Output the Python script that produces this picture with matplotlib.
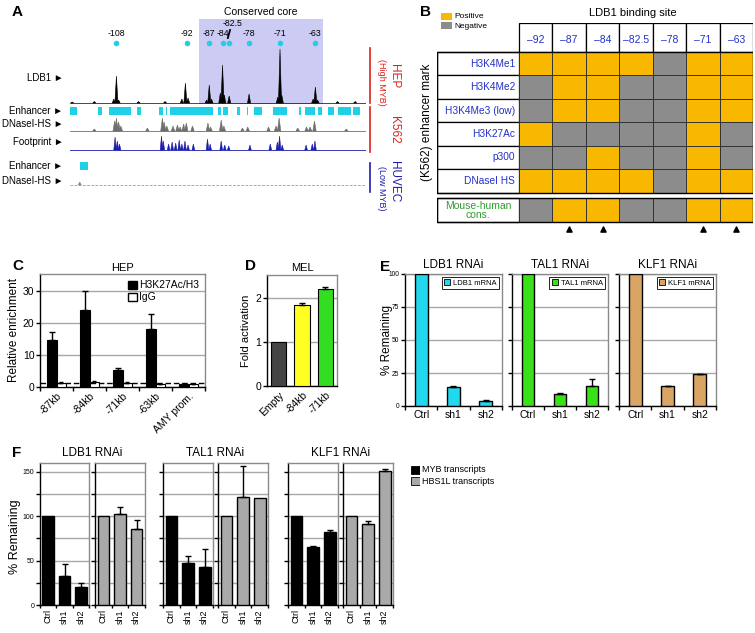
import matplotlib
matplotlib.use('Agg')
import matplotlib.pyplot as plt
from matplotlib.patches import Rectangle, Patch

plt.rcParams['font.family'] = ['Liberation Sans', 'DejaVu Sans']

W, H = 755, 633

# ---------------- panel A data (genomic position in kb) ----------------
site_kb = [-108, -92, -87, -84, -82.5, -78, -71, -63]
site_labels = ['-108', '-92', '-87', '-84', '-82.5', '-78', '-71', '-63']
core_kb = [-89.3, -61.3]

ldb1_kb = [-118, -113, -108.6, -108, -107.5, -103, -97, -93.2, -92.4, -91.8, -87.6, -87, -86.5,
           -84.5, -84, -83.6, -82.5, -78, -71.5, -71, -70.6, -63.5, -63, -62.5, -58, -54]
ldb1_ht = [1, 1.5, 4, 27, 3, 1.5, 1.5, 4, 20, 5, 3, 18, 4,
           10, 38, 8, 7, 9, 6, 54, 8, 4, 16, 3, 1.5, 1.5]

dnase_kb = [-113, -108.4, -108, -107.5, -107, -101, -97.6, -97.2, -96.6, -95.2, -94.2, -93.6,
            -92.8, -92.2, -90.8, -87.3, -86.7, -84.3, -83.7, -79.5, -78.3, -73.6, -71.9, -71.2,
            -67, -65, -64.2, -63.2, -56]
dnase_ht = [2, 10, 13, 9, 5, 3, 13, 9, 5, 5, 6, 4,
            7, 8, 5, 8, 4, 11, 5, 3, 4, 4, 5, 13,
            3, 4, 4, 10, 2]

foot_kb = [-108.3, -107.8, -107.3, -97.8, -97.4, -96.2, -95.4, -94.6, -93.8, -93.2, -92.5, -91.8,
           -90.6, -87.4, -86.8, -84.3, -83.5, -82.6, -77.8, -73.2, -71.6, -71.1, -70.5, -65.1,
           -63.7, -63.1]
foot_ht = [13, 9, 6, 14, 9, 6, 8, 7, 10, 6, 9, 5,
           6, 11, 6, 9, 5, 4, 5, 6, 8, 14, 5, 5,
           6, 9]

k562_enh = [(-118.5, -116.9), (-112.2, -111.3), (-109.7, -104.7), (-103.4, -102.5), (-98.4, -97.5),
            (-96.8, -96.6), (-95.9, -86.2), (-85.0, -84.4), (-83.9, -82.8), (-80.7, -80.1),
            (-78.5, -78.3), (-76.9, -75.1), (-72.6, -69.4), (-66.7, -66.3), (-65.4, -63.1),
            (-62.4, -61.5), (-60.2, -58.8), (-57.9, -55.0), (-54.5, -52.9)]
huvec_enh = [(-116.3, -114.5)]
huvec_dnase_kb = [-116.3]
huvec_dnase_ht = [3]

# ---------------- panel B data ----------------
b_sites = ['\u201392', '\u201387', '\u201384', '\u201382.5', '\u201378', '\u201371', '\u201363']
b_marks = ['H3K4Me1', 'H3K4Me2', 'H3K4Me3 (low)', 'H3K27Ac', 'p300', 'DNaseI HS']
b_values = [[1, 1, 1, 1, 0, 1, 1],
            [0, 1, 1, 0, 0, 1, 1],
            [0, 1, 1, 0, 0, 1, 1],
            [1, 0, 0, 0, 0, 1, 0],
            [0, 0, 1, 0, 0, 1, 0],
            [1, 1, 1, 1, 0, 1, 1]]
b_cons = [0, 1, 1, 0, 0, 1, 1]
b_tested = [1, 2, 5, 6]

# ---------------- panel C data ----------------
c_labels = ['-87kb', '-84kb', '-71kb', '-63kb', 'AMY prom.']
c_h3k27 = [14.8, 24.0, 5.4, 18.0, 0.9]
c_h3k27_err = [2.5, 6.0, 0.4, 4.7, 0.1]
c_igg = [1.3, 1.6, 1.3, 0.9, 0.9]
c_igg_err = [0.2, 0.2, 0.2, 0.1, 0.1]

# ---------------- panel D data ----------------
d_labels = ['Empty', '-84kb', '-71kb']
d_vals = [1.0, 1.83, 2.2]
d_err = [0, 0.06, 0.04]

# ---------------- panel E data ----------------
kd_labels = ['Ctrl', 'sh1', 'sh2']
e_titles = ['LDB1 RNAi', 'TAL1 RNAi', 'KLF1 RNAi']
e_legend = ['LDB1 mRNA', 'TAL1 mRNA', 'KLF1 mRNA']
e_vals = [[100, 14.5, 4.0], [100, 9.0, 14.8], [100, 14.8, 24.2]]
e_err = [[0, 0.6, 0.3], [0, 0.6, 5.5], [0, 0.3, 0.4]]

# ---------------- panel F data ----------------
f_myb = [[100, 33, 20], [100, 47, 43], [100, 65, 82]]
f_myb_err = [[0, 13, 5], [0, 8, 20], [0, 2, 2]]
f_hbs = [[100, 102, 86], [100, 122, 121], [100, 91, 151]]
f_hbs_err = [[0, 8.5, 9.5], [0, 35, 0], [0, 4, 2]]

fig = plt.figure(figsize=(W / 100, H / 100), dpi=100)


def px_axes(l, t, r, b):
    return fig.add_axes([l / W, 1 - b / H, (r - l) / W, (b - t) / H])


def px_text(x, y, s, **kw):
    return fig.text(x / W, 1 - y / H, s, **kw)


def box_style(ax):
    for side in ['top', 'right']:
        ax.spines[side].set_color('#8a8a8a')
        ax.spines[side].set_linewidth(1.0)
    for side in ['left', 'bottom']:
        ax.spines[side].set_color('black')
        ax.spines[side].set_linewidth(1.0)
    ax.set_axisbelow(True)
    ax.yaxis.grid(True, color='#a8a8a8', lw=1.0)


def add_errors(ax, x, vals, errs, capsize=2.5):
    for xi, v, e in zip(x, vals, errs):
        if e > 0:
            ax.errorbar([xi], [v], yerr=[[0], [e]], fmt='none', ecolor='black',
                        elinewidth=1.0, capsize=capsize, capthick=1.0, zorder=4)


def cat_ticks(ax, labels, n, **kw):
    ax.set_xticks(range(n))
    ax.set_xticklabels(labels, **kw)
    ax.set_xticks([i - 0.5 for i in range(n + 1)], minor=True)
    ax.tick_params(axis='x', which='major', length=0, pad=3)
    ax.tick_params(axis='x', which='minor', length=3, width=1, direction='out')


# ================= Panel A =================
XL = (-118.5, -51.55)
axA = px_axes(70, 10, 366, 195)
axA.set_xlim(*XL)
axA.set_ylim(195, 10)
axA.axis('off')
axA.fill_between(core_kb, 19, 104, color='#cbcbf3', lw=0, zorder=0)
axA.text(sum(core_kb) / 2, 12, 'Conserved core', ha='center', va='center', fontsize=7.5)
axA.scatter(site_kb, [43] * len(site_kb), s=16, color='#1fd0e8', zorder=3, lw=0)
for kb, lab in zip(site_kb, site_labels):
    if lab == '-82.5':
        axA.text(kb + 0.8, 24, lab, ha='center', va='center', fontsize=6.3)
        axA.plot([-82.8, -82.3], [38, 30], color='black', lw=1.3)
    else:
        axA.text(kb, 34, lab, ha='center', va='center', fontsize=6.3)


def draw_track(pos, hts, base, color, hw, ls='-', lw=0.5):
    axA.plot(XL, [base, base], color=color, lw=lw, ls=ls)
    for p, h in zip(pos, hts):
        axA.fill([p - hw, p, p + hw], [base, base - h, base], facecolor=color,
                 edgecolor=color, lw=0.4)


draw_track(ldb1_kb, ldb1_ht, 103, 'black', 0.35)
axA.broken_barh([(a, b - a) for a, b in k562_enh], (107, 8), facecolors='#1fd0e8')
draw_track(dnase_kb, dnase_ht, 131, '#6e6e6e', 0.38, lw=0.6)
draw_track(foot_kb, foot_ht, 150, '#1c1cb0', 0.3, lw=0.6)
axA.broken_barh([(a, b - a) for a, b in huvec_enh], (162, 8), facecolors='#1fd0e8')
draw_track(huvec_dnase_kb, huvec_dnase_ht, 185, '#8a8a8a', 0.35, ls=(0, (4, 2)), lw=0.5)

track_names = [('LDB1 \u25ba', 78), ('Enhancer \u25ba', 111), ('DNaseI-HS \u25ba', 124),
               ('Footprint \u25ba', 142), ('Enhancer \u25ba', 166), ('DNaseI-HS \u25ba', 181)]
for name, y in track_names:
    axA.text(-120.0, y, name, ha='right', va='center', fontsize=7, clip_on=False)

red, navy = '#e0201c', '#1c1cb0'
axA.plot([-50.65, -50.65], [48, 103], color=red, lw=1.2, clip_on=False)
axA.plot([-50.65, -50.65], [107, 152], color=red, lw=1.2, clip_on=False)
axA.plot([-50.65, -50.65], [163, 192], color=navy, lw=1.2, clip_on=False)
axA.text(-45.3, 76, 'HEP', rotation=270, ha='center', va='center', color=red, fontsize=8.5, clip_on=False)
axA.text(-48.0, 82, '(High MYB)', rotation=270, ha='center', va='center', color=red, fontsize=6.5, clip_on=False)
axA.text(-45.3, 130, 'K562', rotation=270, ha='center', va='center', color=red, fontsize=8.5, clip_on=False)
axA.text(-45.3, 182, 'HUVEC', rotation=270, ha='center', va='center', color=navy, fontsize=8.5, clip_on=False)
axA.text(-48.0, 188, '(Low MYB)', rotation=270, ha='center', va='center', color=navy, fontsize=6.5, clip_on=False)
px_text(12, 12, 'A', fontsize=11, fontweight='bold', ha='left', va='center')

# ================= Panel B =================
orange, grey = '#f8b800', '#8c8c8c'
axB = px_axes(437, 23, 753, 232)
axB.set_xlim(-2.45, 7)
axB.set_ylim(7.68, -1.24)
axB.axis('off')
row_y = [0, 1, 2, 3, 4, 5]
cons_y = 6.25
for j, s in enumerate(b_sites):
    axB.add_patch(Rectangle((j, -1.24), 1, 1.24, fc='white', ec='black', lw=0.9))
    axB.text(j + 0.5, -0.5, s, ha='center', va='center', fontsize=7.5, color='#2230c8')
for i, name in enumerate(b_marks):
    axB.add_patch(Rectangle((-2.45, row_y[i]), 2.45, 1, fc='white', ec='black', lw=0.9))
    axB.text(-0.12, row_y[i] + 0.5, name, ha='right', va='center', fontsize=7.3, color='#2230c8')
    for j, v in enumerate(b_values[i]):
        axB.add_patch(Rectangle((j, row_y[i]), 1, 1, fc=orange if v else grey, ec='#333333', lw=0.7))
axB.add_patch(Rectangle((-2.45, 0), 9.45, 6, fc='none', ec='black', lw=1.0))
axB.add_patch(Rectangle((-2.45, cons_y), 2.45, 1, fc='white', ec='black', lw=0.9))
axB.text(-1.22, cons_y + 0.5, 'Mouse-human\ncons.', ha='center', va='center', fontsize=7.5,
         color='#2f9e2f', linespacing=0.85)
for j, v in enumerate(b_cons):
    axB.add_patch(Rectangle((j, cons_y), 1, 1, fc=orange if v else grey, ec='#333333', lw=0.7))
axB.add_patch(Rectangle((-2.45, cons_y), 9.45, 1, fc='none', ec='black', lw=1.0))
axB.scatter([j + 0.5 for j in b_tested], [7.55] * len(b_tested), marker='^', s=14,
            color='black', clip_on=False)
px_text(633, 13, 'LDB1 binding site', fontsize=8, ha='center', va='center')
px_text(427, 122, '(K562) enhancer mark', fontsize=8.5, rotation=90, ha='center', va='center')
px_text(420, 12, 'B', fontsize=11, fontweight='bold', ha='left', va='center')
legB = px_axes(441, 12, 452, 30)
legB.set_xlim(0, 1)
legB.set_ylim(30, 12)
legB.axis('off')
legB.add_patch(Rectangle((0, 13), 1, 7, fc=orange, ec='none'))
legB.add_patch(Rectangle((0, 21.5), 1, 7, fc=grey, ec='none'))
px_text(454, 17, 'Positive', fontsize=6, ha='left', va='center')
px_text(454, 26, 'Negative', fontsize=6, ha='left', va='center')

# ================= Panel C =================
axC = px_axes(40, 274, 205, 387)
box_style(axC)
xc = list(range(len(c_labels)))
axC.bar([x - 0.15 for x in xc], c_h3k27, width=0.3, color='black', edgecolor='black', lw=0.8, zorder=3)
axC.bar([x + 0.15 for x in xc], c_igg, width=0.3, color='white', edgecolor='black', lw=0.8, zorder=3)
add_errors(axC, [x - 0.15 for x in xc], c_h3k27, c_h3k27_err, capsize=2.5)
add_errors(axC, [x + 0.15 for x in xc], c_igg, c_igg_err, capsize=1.5)
axC.axhline(1.2, color='black', ls=(0, (4, 2)), lw=1.0, zorder=5)
axC.set_xlim(-0.5, 4.5)
axC.set_ylim(0, 35.3)
axC.set_yticks([0, 10, 20, 30])
axC.tick_params(axis='y', labelsize=7.5, length=3, width=1, pad=1)
cat_ticks(axC, c_labels, len(c_labels), rotation=45, ha='right', rotation_mode='anchor', fontsize=7.5)
axC.set_ylabel('Relative enrichment', fontsize=8.5, labelpad=2)
axC.legend(handles=[Patch(fc='black', ec='black', label='H3K27Ac/H3'),
                    Patch(fc='white', ec='black', label='IgG')],
           loc='upper right', frameon=False, fontsize=7.5, handlelength=0.8, handleheight=0.8,
           handletextpad=0.2, borderaxespad=0.2, labelspacing=0.2)
axC.set_title('HEP', fontsize=8, pad=2)
px_text(12, 266, 'C', fontsize=11, fontweight='bold', ha='left', va='center')

# ================= Panel D =================
axD = px_axes(267, 275, 337, 386)
box_style(axD)
axD.bar(range(3), d_vals, width=0.65, color=['#444444', '#ffff22', '#33dd22'],
        edgecolor='black', lw=0.8, zorder=3)
add_errors(axD, range(3), d_vals, d_err, capsize=2.5)
axD.set_xlim(-0.5, 2.5)
axD.set_ylim(0, 2.52)
axD.set_yticks([0, 1, 2])
axD.tick_params(axis='y', labelsize=7.5, length=3, width=1, pad=1)
cat_ticks(axD, d_labels, 3, rotation=45, ha='right', rotation_mode='anchor', fontsize=7.5)
axD.tick_params(axis='x', which='minor', length=0)
axD.set_ylabel('Fold activation', fontsize=8, labelpad=3)
axD.set_title('MEL', fontsize=8, pad=3)
px_text(245, 266, 'D', fontsize=11, fontweight='bold', ha='left', va='center')

# ================= Panel E =================
e_colors = ['#22d8ee', '#3ae01a', '#d9a565']
e_pos = [(405, 502), (512, 608), (619, 716)]
for k, (l, r) in enumerate(e_pos):
    ax = px_axes(l, 274, r, 406)
    box_style(ax)
    ax.bar(range(3), e_vals[k], width=0.4, color=e_colors[k], edgecolor='black', lw=1.0, zorder=3)
    add_errors(ax, range(3), e_vals[k], e_err[k], capsize=2.5)
    ax.set_xlim(-0.5, 2.5)
    ax.set_ylim(0, 100)
    ax.set_yticks([0, 25, 50, 75, 100])
    ax.tick_params(axis='y', labelsize=4.8, length=3, width=1, pad=1)
    if k > 0:
        ax.set_yticklabels([])
    cat_ticks(ax, kd_labels, 3, fontsize=7.5)
    leg = ax.legend(handles=[Patch(fc=e_colors[k], ec='black', lw=0.6, label=e_legend[k])],
                    loc='upper right', fontsize=5.5, fancybox=False, edgecolor='black',
                    framealpha=1, handlelength=0.8, handleheight=0.8, handletextpad=0.4,
                    borderpad=0.3, borderaxespad=0.35)
    leg.get_frame().set_linewidth(0.6)
    px_text((l + r) / 2, 265, e_titles[k], fontsize=8.5, ha='center', va='center')
px_text(387, 340, '% Remaining', fontsize=8.5, rotation=90, ha='center', va='center')
px_text(380, 267, 'E', fontsize=11, fontweight='bold', ha='left', va='center')

# ================= Panel F =================
f_pos = [(40, 89), (95, 145), (163, 213), (218, 268), (288, 338), (343, 393)]
for k in range(3):
    for m, (vals, errs, col) in enumerate([(f_myb[k], f_myb_err[k], 'black'),
                                           (f_hbs[k], f_hbs_err[k], '#a9a9a9')]):
        l, r = f_pos[2 * k + m]
        ax = px_axes(l, 463, r, 605)
        box_style(ax)
        ax.bar(range(3), vals, width=0.7, color=col, edgecolor='black', lw=1.0, zorder=3)
        add_errors(ax, range(3), vals, errs, capsize=2.5)
        ax.set_xlim(-0.5, 2.5)
        ax.set_ylim(0, 160)
        ax.set_yticks([0, 25, 50, 75, 100, 125, 150])
        if k == 0 and m == 0:
            ax.set_yticklabels(['0', '', '50', '', '100', '', '150'])
        else:
            ax.set_yticklabels([])
        ax.tick_params(axis='y', labelsize=5, length=3, width=1, pad=1)
        cat_ticks(ax, kd_labels, 3, rotation=90, fontsize=6.5)
        ax.tick_params(axis='x', which='minor', length=2)
    l0, r0 = f_pos[2 * k][0], f_pos[2 * k + 1][1]
    px_text((l0 + r0) / 2, 453, e_titles[k], fontsize=8.5, ha='center', va='center')
px_text(15, 537, '% Remaining', fontsize=9, rotation=90, ha='center', va='center')
px_text(12, 453, 'F', fontsize=11, fontweight='bold', ha='left', va='center')

legF = px_axes(411, 465, 420, 487)
legF.set_xlim(0, 1)
legF.set_ylim(487, 465)
legF.axis('off')
legF.add_patch(Rectangle((0, 466), 1, 8, fc='black', ec='black', lw=0.6))
legF.add_patch(Rectangle((0, 477), 1, 8, fc='#a9a9a9', ec='black', lw=0.6))
px_text(422, 470, 'MYB transcripts', fontsize=6.5, ha='left', va='center')
px_text(422, 481, 'HBS1L transcripts', fontsize=6.5, ha='left', va='center')

fig.savefig('out.png', dpi=100)
